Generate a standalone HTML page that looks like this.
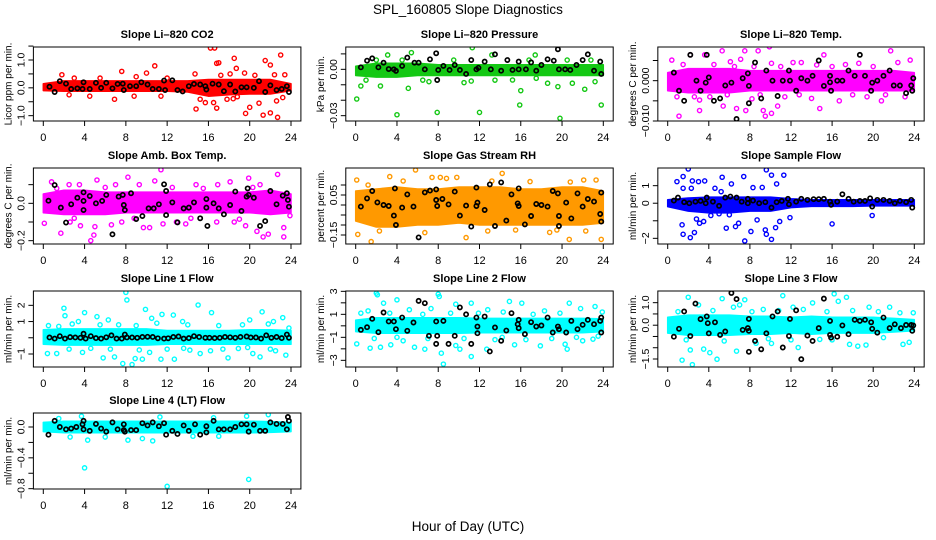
<!DOCTYPE html>
<html><head><meta charset="utf-8">
<style>
html,body{margin:0;padding:0;background:#fff;}
svg{display:block;font-family:"Liberation Sans",Arial,sans-serif;}
</style></head>
<body>
<svg id="chart" width="936" height="540" viewBox="0 0 936 540" xmlns="http://www.w3.org/2000/svg">
<rect x="0" y="0" width="936" height="540" fill="#fff"/>
<text x="468" y="14" text-anchor="middle" font-size="13.5">SPL_160805  Slope Diagnostics</text>
<text x="468" y="531" text-anchor="middle" font-size="13.5">Hour of Day (UTC)</text>
</svg>
<script>
const xTicks = [0,4,8,12,16,20,24];
const bandHours = [0,2,4,6,8,10,12,14,16,18,20,22,24];

// Panel 1: CO2
const co2BandLo = [-0.1,-0.12,-0.12,-0.12,-0.12,-0.12,-0.12,-0.15,-0.3,-0.25,-0.22,-0.22,-0.1];
const co2BandHi = [0.15,0.25,0.25,0.25,0.25,0.25,0.25,0.25,0.3,0.3,0.3,0.3,0.15];
const co2Pts = [[16.2,1.43],[16.6,1.43],[23,1.18],[10.8,0.79],[16.8,0.88],[17,0.9],[18.5,1.06],[18.7,0.7],[21.5,0.98],[22,0.82],[14.8,-0.76],[16.8,-0.73],[19.6,-0.92],[21.3,-0.98],[22.7,-1.06],[22,-0.9],[20.9,-0.55],[22.6,-0.47],[6.9,-0.41],[15.7,-0.53],[17.8,-0.41],[18.4,-0.39],[1.8,0.47],[7.6,0.59],[10,0.53],[14.7,0.5],[19.5,0.53],[18.1,0.5],[22.4,0.47],[23.4,0.47],[15.2,-0.41],[16.5,-0.53],[20,-0.7],[18.8,-0.32],[3,0.35],[5.5,0.35],[9,0.4],[12,0.35],[2.5,-0.25],[4.5,-0.3],[8.8,-0.3],[11.4,-0.3],[17.2,0.45],[20.5,0.45],[23.2,-0.35]];
const co2Black = [[0.6,0.04],[1.1,-0.15],[1.6,0.24],[2.2,0.15],[2.7,-0.04],[3.3,-0.02],[3.8,-0.04],[3.9,0.2],[4.5,-0.04],[5.1,0.18],[5.6,0],[6.1,0.18],[6.7,-0.02],[7.2,0.14],[7.7,0.15],[7.8,-0.08],[8.4,0.06],[9,0.06],[9.5,0.2],[10.1,0.12],[10.6,-0.04],[11.2,-0.04],[11.7,0.26],[11.8,-0.08],[12.5,0.27],[13,-0.08],[13.5,-0.13],[14.1,0.06],[14.6,0.14],[15.2,0.12],[15.7,0.06],[15.8,-0.06],[16.4,0.15],[17,0.12],[17.5,-0.12],[18.1,0.12],[18.6,-0.13],[19.2,0.02],[19.7,0.02],[20.4,0],[20.9,0.24],[21.5,-0.15],[22,0.09],[22.6,-0.08],[23.1,-0.04],[23.6,0.06],[23.8,-0.15]];

// Panel 2: Pressure
const presBandLo = [-0.004,-0.005,-0.005,-0.004,-0.004,-0.004,-0.004,-0.004,-0.004,-0.004,-0.004,-0.004,-0.004];
const presBandHi = [0.002,0.004,0.004,0.004,0.003,0.003,0.003,0.003,0.003,0.003,0.003,0.003,0.003];
const presPts = [[3.1,0.0093],[5.4,0.0108],[11.3,0.014],[13.2,0.0093],[17.4,0.0093],[0.1,-0.0192],[0.5,-0.0108],[2.4,-0.0108],[5.1,-0.0123],[4,-0.0294],[7.9,-0.0279],[12,-0.0279],[15.9,-0.0231],[16,-0.0138],[19.6,-0.0112],[19.8,-0.0317],[22.2,-0.0129],[23.8,-0.0231],[7.1,-0.008],[10.5,-0.0086],[11.2,-0.0076],[15.2,-0.0069],[17.5,-0.0058],[18.6,-0.009],[21,-0.009],[23.2,-0.008],[1,-0.007],[2,0.006],[4.5,0.006],[6.5,-0.007],[9.5,0.006],[13.5,-0.007],[16.8,0.006],[20.5,0.006],[22.8,0.006]];
const presBlack = [[0.5,0.0013],[1.1,0.0056],[1.6,0.0071],[2.2,0.0013],[2.7,0.0043],[3.2,0.0002],[3.7,0],[3.9,-0.001],[4.5,0.0022],[5,0.0076],[5.7,0.0043],[6.1,0.0043],[6.7,0],[7.2,0.0065],[7.8,0.0104],[7.9,-0.0069],[8,-0.0004],[8.5,0.0022],[9.1,-0.0004],[9.6,0.0028],[10.1,-0.0004],[10.7,-0.003],[11.2,0.006],[11.7,0],[11.9,0.001],[12.5,0.005],[13.1,0],[13.5,0.0097],[14.1,-0.0009],[14.7,0.006],[15.2,-0.0004],[15.8,0.005],[15.8,0],[16.5,0],[17,0.0045],[17.5,-0.0009],[18,0.0028],[18.6,0.0065],[19.2,0.0056],[19.6,0.013],[19.7,0],[20.3,0],[20.8,-0.0004],[21.4,0.0028],[22,0.006],[22.5,0.0097],[23.1,-0.0009],[23.7,0.005],[23.8,-0.003]];

// Panel 3: Temp
const tempBandLo = [-0.0025,-0.003,-0.003,-0.003,-0.0025,-0.0025,-0.0025,-0.0025,-0.0025,-0.0025,-0.0025,-0.0025,-0.0025];
const tempBandHi = [0.002,0.003,0.003,0.003,0.0025,0.0025,0.0025,0.0025,0.0025,0.0025,0.0025,0.0025,0.002];
const tempPts = [[0.4,0.0051],[1.1,-0.0088],[2.2,0.0064],[3.1,-0.0074],[3.6,0.0064],[5.3,0.0074],[5.4,-0.0063],[6.7,-0.0069],[7.5,0.0074],[7.6,-0.0074],[8.8,0.0074],[9.3,-0.0074],[9.5,-0.0088],[9.9,0.0084],[10.1,-0.0081],[10.7,-0.0063],[12.2,0.0045],[14,-0.0044],[14.8,-0.0069],[15.2,0.0064],[16.7,-0.005],[18.6,0.0043],[20.8,-0.005],[21.7,0.0074],[23.6,0.0051],[23.1,-0.004],[6.1,0.0047],[4.1,-0.004],[3.1,-0.0048],[14.5,0.0039],[19.4,-0.004],[10.1,0.0043],[7.1,0.0053],[1.5,0.004],[2.6,-0.004],[4.5,0.004],[8.2,-0.0045],[11.4,-0.004],[13,0.0045],[17.3,0.004],[22.4,0.0045],[0.9,-0.004],[5.8,-0.0035],[6.5,0.0035],[8.4,0.0035],[9,-0.0035],[11,0.0035],[12.8,-0.0035],[16,0.0035],[18,-0.0035],[20,0.0035],[21.2,-0.0035]];
const tempBlack = [[0.6,0.002],[1.1,-0.0025],[1.6,-0.005],[2.2,0.0064],[2.8,0],[3.2,-0.0025],[3.7,-0.0005],[3.8,0.0064],[4,0.0008],[4.5,-0.005],[5.1,-0.0044],[5.6,-0.0012],[6.2,-0.0005],[6.7,-0.0095],[7.3,0.0006],[7.8,0.0018],[7.9,-0.0013],[7.9,-0.0056],[8.5,0.0045],[9.1,-0.0044],[9.6,0.0025],[10.2,0],[10.7,-0.0038],[11.2,0],[11.8,0.0025],[11.9,0],[12.5,-0.0025],[13,0.0006],[13.6,0],[14.1,0.0012],[14.7,0.005],[15.2,-0.0013],[15.8,0.0012],[15.8,-0.0004],[15.9,-0.0025],[16.5,0],[17,0],[17.6,0.0025],[18.2,0.0012],[18.7,0.0064],[19.2,0.0012],[19.8,-0.0025],[19.9,-0.0005],[20.4,0],[21,0.0012],[21.6,0.0025],[22,-0.0012],[22.6,-0.0012],[23.2,-0.0031],[23.7,-0.0012],[23.8,-0.0025],[23.9,0.0006]];

// Panel 4: Amb. Box Temp
const ambBandLo = [-0.05,-0.06,-0.06,-0.06,-0.05,-0.05,-0.05,-0.05,-0.05,-0.05,-0.05,-0.06,-0.05];
const ambBandHi = [0.05,0.07,0.07,0.06,0.06,0.06,0.06,0.06,0.06,0.06,0.06,0.07,0.05];
const ambPts = [[11.4,0.18],[22.7,0.155],[5.2,0.125],[8.2,0.14],[0.8,0.115],[1.7,-0.16],[3.6,-0.12],[4.6,-0.2],[4.9,-0.17],[5,-0.125],[9.7,-0.13],[10.3,-0.13],[11.6,-0.11],[13.8,-0.11],[18.1,0.115],[19.9,0.135],[19.6,-0.12],[20.7,-0.15],[21.3,-0.18],[21.8,-0.165],[23.3,-0.13],[23.3,-0.18],[23.9,-0.066],[6.6,-0.115],[0.1,-0.107],[2.5,0.1],[3.5,0.1],[7,0.1],[9.3,0.1],[10.8,0.12],[14.8,0.1],[16.9,0.1],[21,0.1],[2.6,-0.1],[7.6,-0.1],[12.9,-0.1],[16.8,-0.1],[18.5,-0.1],[1.3,0.08],[6,0.085],[12.5,0.085],[15.5,0.08],[20.3,0.085],[3,-0.08],[8.8,-0.08],[14.3,-0.08],[19,-0.085]];
const ambBlack = [[0.5,0.014],[1.1,0.098],[1.7,-0.023],[2.2,-0.103],[2.7,-0.005],[3.3,0.03],[3.9,0.059],[3.9,0.013],[3.9,-0.036],[4.5,0.039],[5.1,0],[5.7,0.013],[6.1,0.045],[6.7,-0.166],[7.3,0.036],[7.7,0.045],[7.8,-0.009],[7.9,-0.036],[8.5,0.054],[9,-0.084],[9.6,-0.068],[10.2,-0.027],[10.7,-0.027],[11.2,-0.005],[11.7,0.102],[11.9,0.066],[11.9,-0.063],[12.5,0.005],[13,-0.102],[13.6,-0.027],[14.1,-0.023],[14.6,0.005],[15.2,-0.08],[15.8,0.023],[15.8,-0.023],[15.9,-0.121],[16.5,0],[17,-0.027],[17.5,-0.059],[18.1,-0.009],[18.6,0.063],[19.2,-0.041],[19.7,0.036],[19.8,0.08],[19.9,0.045],[20.4,0.03],[21,-0.121],[21.5,-0.095],[22,0.066],[22.6,-0.005],[23.2,0.041],[23.6,0.054],[23.7,0.018],[23.8,-0.018]];

// Panel 5: Gas Stream RH
const rhBandLo = [-0.08,-0.11,-0.11,-0.1,-0.1,-0.09,-0.1,-0.1,-0.1,-0.1,-0.1,-0.1,-0.09];
const rhBandHi = [0.07,0.08,0.09,0.08,0.08,0.09,0.09,0.09,0.08,0.08,0.09,0.09,0.07];
const rhPts = [[1.5,-0.183],[0.2,-0.147],[5.8,0.175],[3.3,0.142],[14.2,0.158],[10.7,-0.163],[20.7,-0.172],[22.3,-0.13],[23.8,-0.172],[6.7,-0.138],[9.8,0.138],[7.4,0.138],[8.2,0.138],[8.8,0.133],[18.8,-0.137],[16.9,0.117],[22.1,0.125],[0.1,0.125],[1.2,0.1],[4.6,0.12],[13.2,0.12],[20.8,0.115],[23.3,0.125],[2.3,-0.13],[12.8,-0.13],[15.5,-0.125],[19.5,-0.125]];
const rhBlack = [[0.5,-0.008],[1.1,0.033],[1.6,0.07],[2.1,0.013],[2.7,0],[3.2,-0.005],[3.7,-0.053],[3.8,0.083],[3.9,-0.1],[4.5,-0.013],[5,0.053],[5.6,-0.008],[6.1,-0.162],[6.7,0.063],[7.2,0.072],[7.8,0.078],[7.8,0.025],[7.9,-0.005],[8.4,0.03],[9,0.003],[9.6,0.067],[10.1,-0.053],[10.7,-0.003],[11.2,-0.108],[11.7,0.087],[11.7,-0.005],[11.8,0.012],[12.5,-0.025],[13,0.103],[13.5,-0.105],[14.1,0.113],[14.6,-0.078],[15.1,0.053],[15.7,0.008],[15.8,0.083],[15.8,-0.005],[16.4,-0.097],[17,-0.055],[17.5,0.005],[18,0],[18.6,-0.008],[19.1,0.07],[19.6,0.058],[19.7,-0.055],[19.7,-0.105],[20.4,0.012],[20.9,-0.067],[21.5,0.058],[22,-0.008],[22.5,0.03],[23.1,0.017],[23.7,-0.045],[23.8,-0.083],[23.8,0.062]];

// Panel 6: Sample Flow
const sfBandLo = [-0.2,-0.45,-0.55,-0.55,-0.45,-0.45,-0.25,-0.18,-0.18,-0.18,-0.15,-0.15,-0.15];
const sfBandHi = [0.2,0.3,0.35,0.35,0.35,0.35,0.25,0.2,0.2,0.2,0.2,0.2,0.2];
const sfPts = [[2,1.95],[1.5,1.52],[0.9,1.23],[2.4,1.27],[3,1.23],[3.6,1.27],[5.3,1.48],[7.4,1.52],[9.6,1.9],[10.1,1.6],[11.3,1.6],[2.3,0.85],[1.5,0.85],[1.4,-1.23],[1.5,-1.77],[2.2,-1.96],[2.6,-1.67],[3.1,-1.14],[3.5,-1.04],[5.7,-1.42],[6,-0.66],[6.6,-1.33],[6.9,-1.14],[7.5,-2.15],[8.1,-1.61],[8.7,-0.95],[9.5,-1.52],[9.6,-1.77],[10.1,-2.06],[10.5,-1.39],[10.9,-1.04],[11.9,-0.82],[16,-1.18],[19.9,-0.7],[5.2,0.66],[8.3,0.89],[4.6,0.85],[6.2,1.1],[10.6,1.1],[4.2,-0.7],[5,-0.6],[9.2,0.9],[2.8,-0.9]];
const sfBlack = [[0.6,0.15],[1,0.32],[1.6,0.06],[2.1,0],[2.7,0.09],[3.2,0.13],[3.7,0],[3.8,0.32],[4.4,0.09],[5,-0.15],[5.6,0.32],[6.1,0.38],[6.7,0.32],[7.2,0.09],[7.8,0.25],[7.8,0],[8.3,0.15],[8.9,0],[9.5,0.06],[10.1,-0.25],[10.6,0.06],[11.1,0.13],[11.7,0.25],[11.8,-0.06],[12.5,0.09],[13,0.25],[13.6,0.19],[14.2,0.23],[14.7,0.23],[15.2,0.25],[15.8,0.09],[15.9,-0.09],[16.5,0.09],[17,0.51],[17.6,0.25],[18.1,0.09],[18.7,0.13],[19.2,0.13],[19.7,0.28],[19.9,-0.19],[20.4,0.19],[21,0.19],[21.6,0.13],[22.1,0],[22.6,0.13],[23.2,0.06],[23.7,0.19],[23.8,-0.25]];

// Panel 7: Line 1 Flow
const l1BandLo = [-0.4,-0.45,-0.45,-0.45,-0.45,-0.45,-0.4,-0.4,-0.4,-0.4,-0.4,-0.4,-0.4];
const l1BandHi = [0.5,0.55,0.55,0.55,0.55,0.55,0.45,0.45,0.45,0.45,0.5,0.5,0.45];
const l1Pts = [[8,2.8],[8.1,2.33],[15,2.02],[2,1.82],[9.9,1.75],[2.1,1.36],[4,1.55],[11.5,1.44],[12.6,1.4],[16.3,1.55],[21.2,1.6],[23.2,1.24],[5.2,1.3],[0.4,-0.97],[1.3,-0.97],[5.8,-1.24],[6.9,-1.18],[7.7,-1.59],[8.6,-1.65],[8.9,-1.28],[9.6,-1.32],[11.4,-1.32],[12.7,-1.32],[17.9,-1.24],[20.3,-0.97],[21,-1.18],[23.5,-1.07],[14.2,-0.76],[18.9,-0.66],[15.2,-0.97],[3.4,1],[6.3,1.1],[10.5,1.2],[13.5,1],[20,1.1],[22.3,1],[3.8,-0.9],[10.3,-0.9],[16.2,-0.8],[22.5,-0.8],[0.5,0.75],[1.5,0.7],[2.8,0.85],[5.5,0.8],[7.3,0.8],[9,0.75],[11,0.9],[14,0.8],[17,0.75],[19.3,0.8],[21.8,0.85],[23.8,0.6],[2.5,-0.7],[4.6,-0.65],[6.5,-0.7],[9.3,-0.75],[12,-0.7],[13.6,-0.65],[17.4,-0.7],[19.8,-0.6],[22,-0.7]];
const l1Black = [[0.6,0.02],[1.1,-0.05],[1.6,0.1],[2.1,-0.05],[2.6,0.04],[3.1,0.02],[3.6,0],[3.9,0.25],[4.1,-0.05],[4.6,0.1],[5.1,-0.02],[5.6,-0.05],[6.1,0.03],[6.6,0.15],[7.1,-0.05],[7.6,-0.05],[7.9,0.2],[8.1,0.02],[8.6,0.02],[9.1,0],[9.6,0.05],[10.1,0.06],[10.6,0.05],[11.1,-0.03],[11.7,-0.05],[12.1,-0.03],[12.6,0.05],[13.1,0.08],[13.6,-0.05],[14.1,-0.02],[14.6,0.1],[15.1,0.05],[15.7,0],[16.1,0],[16.6,-0.02],[17.1,0],[17.6,0.05],[18.1,0.03],[18.6,0],[19.1,0.05],[19.7,0.08],[20.1,0.02],[20.6,0.02],[21.1,-0.05],[21.6,0.15],[22.1,0],[22.6,0.05],[23.1,-0.02],[23.6,0.2],[23.8,0]];

// Panel 8: Line 2 Flow
const l2BandLo = [-0.5,-0.65,-0.65,-0.65,-0.65,-0.65,-0.6,-0.6,-0.6,-0.6,-0.6,-0.6,-0.5];
const l2BandHi = [0.5,0.7,0.7,0.7,0.7,0.7,0.65,0.65,0.65,0.65,0.65,0.65,0.6];
const l2Pts = [[2,2.84],[2.1,2.7],[4,2.26],[2.7,1.97],[8,2.75],[8.1,2.55],[9.7,1.88],[11.2,1.97],[14.9,2.12],[16.1,1.97],[20.7,1.97],[23.2,1.68],[0.1,-1.57],[1.4,-1.94],[2.4,-1.86],[3.4,-1.65],[5.7,-1.86],[6.7,-2.03],[8.3,-2.38],[8.5,-3.33],[9.7,-1.71],[10.1,-2.03],[11.2,-2.67],[12.7,-2.03],[15.4,-1.65],[17.9,-1.74],[20.3,-1.6],[20.5,-2.03],[23,-1.16],[1.2,1.3],[5.2,1.4],[7.3,1.5],[12.8,1.4],[18.3,1.3],[21.8,1.5],[4.6,-1.3],[13.5,-1.2],[16.5,-1.2],[22,-1.3],[0.5,1.1],[3.3,1.1],[6.5,1],[9.2,1.1],[11.9,1.1],[14.3,1.2],[17.2,1],[19.8,1.1],[23.9,1.2],[1.8,-1.1],[4,-1],[7,-1.1],[10.5,-1.1],[14.2,-1],[19,-1.1],[21.4,-1],[23.5,-0.9]];
const l2Black = [[0.5,-0.35],[1.1,-0.12],[1.6,0.61],[2.2,-0.55],[2.7,1.16],[3.2,0.38],[3.7,0.38],[3.9,-0.29],[4.5,0.72],[5,-0.43],[5.6,0.29],[6.1,2.17],[6.7,1.97],[7.1,-0.87],[7.8,0.38],[7.8,-1.57],[7.9,-0.87],[8.5,0.43],[9,-1.57],[9.6,-0.87],[10.1,1.6],[10.7,1],[11.2,-1.57],[11.7,0.72],[11.8,-0.06],[11.8,-0.64],[12.5,0.81],[13,-2.23],[13.5,-0.14],[14.1,-1.3],[14.6,-0.41],[15.1,1.1],[15.7,0.14],[15.8,0.52],[15.8,-0.2],[16.4,-0.72],[17,0.32],[17.5,-0.06],[18,0.03],[18.6,0.72],[19.1,-0.58],[19.6,-0.06],[19.7,-0.29],[20.4,-0.58],[20.9,0.43],[21.5,-0.29],[22,0.09],[22.5,0.52],[23.1,0.14],[23.7,0.43],[23.8,-0.58],[23.8,0.72]];

// Panel 9: Line 3 Flow
const l3BandLo = [-0.35,-0.45,-0.45,-0.45,-0.4,-0.4,-0.35,-0.4,-0.35,-0.35,-0.35,-0.3,-0.25];
const l3BandHi = [0.35,0.45,0.45,0.45,0.4,0.4,0.35,0.4,0.35,0.35,0.35,0.3,0.25];
const l3Pts = [[2,1.24],[1.4,-1.55],[2.4,-1.75],[5.3,1.18],[4.8,-1.51],[6.7,-1.15],[7.5,1.13],[11.2,1.31],[16.2,1.39],[16.6,1.06],[17.4,1.24],[14.1,0.99],[22.9,-0.85],[23.5,-0.76],[17.7,-0.85],[18.5,-0.93],[19.3,-0.88],[2.2,-1.1],[3.5,-1.06],[4.1,-1.22],[12.7,-0.99],[10.1,-0.81],[14.8,-0.63],[3,0.9],[6.4,0.8],[9.3,0.7],[12.2,0.8],[19.6,0.8],[21.6,0.8],[8.6,-0.8],[7,0.9],[1,0.6],[4.4,0.65],[8.2,0.6],[10.8,0.65],[13.2,0.7],[15.5,0.6],[18,0.65],[20.5,0.6],[22.6,0.55],[23.9,0.55],[1.8,-0.65],[5.5,-0.7],[9.8,-0.6],[12,-0.65],[16,-0.65],[21,-0.55]];
const l3Black = [[0.6,-0.51],[1.1,-0.16],[1.6,0.61],[2.2,-0.48],[2.7,0.96],[3.2,0.27],[3.8,0.39],[3.9,0.09],[4,-0.36],[4.6,0.13],[5.1,-0.43],[5.6,-0.28],[6.2,1.43],[6.7,1.16],[7.3,-0.21],[7.8,-0.13],[7.9,0.28],[7.9,-0.25],[7.9,-1.18],[8.5,-0.7],[9.1,-1.07],[9.6,-0.36],[10.2,0.39],[10.7,0.61],[11.2,-0.99],[11.8,-0.48],[11.9,0.28],[12.5,0.66],[13,-1.51],[13.6,-0.46],[14.1,-0.7],[14.7,-0.13],[15.2,1.18],[15.8,0.19],[15.8,-0.43],[15.9,-0.55],[16.5,-0.51],[17,-0.01],[17.6,-0.4],[18.2,0.24],[18.7,0.19],[19.2,0.24],[19.8,0.13],[19.9,-0.16],[20.4,-0.33],[21,0.34],[21.6,-0.13],[22.1,0.04],[22.7,-0.13],[23.2,0.01],[23.7,0.01],[23.8,-0.25],[23.9,-0.01]];

// Panel 10: Line 4 (LT) Flow
const l4BandLo = [-0.06,-0.075,-0.075,-0.075,-0.075,-0.075,-0.075,-0.075,-0.075,-0.075,-0.075,-0.07,-0.06];
const l4BandHi = [0.06,0.075,0.075,0.075,0.075,0.075,0.075,0.075,0.075,0.075,0.075,0.07,0.06];
const l4Pts = [[4,-0.53],[12,-0.77],[19.9,-0.68],[4.3,-0.17],[8.2,-0.17],[9.6,-0.15],[10.6,-0.18],[19.7,0.14],[21.8,0.16],[3.7,0.14],[2.6,-0.13],[6,-0.13],[1.5,0.11],[11.3,0.13],[16.5,0.12],[14.5,-0.12],[17,-0.12]];
const l4Black = [[0.5,-0.1],[1.1,0.08],[1.6,0],[2.2,-0.03],[2.7,-0.02],[3.2,0],[3.8,0.035],[3.9,-0.03],[3.9,0.08],[4.5,-0.05],[5.1,0.04],[5.6,-0.02],[6.1,-0.06],[6.7,0.06],[7.2,-0.03],[7.8,0.035],[7.8,-0.04],[7.9,-0.06],[8.5,-0.04],[9,-0.04],[9.6,0.05],[10.1,0.02],[10.6,0.06],[11.2,0.01],[11.7,0.05],[11.9,-0.1],[12.5,-0.05],[13,-0.09],[13.6,0.02],[14.1,-0.05],[14.7,0.035],[15.2,-0.1],[15.8,0.01],[15.8,-0.07],[16.5,0.08],[17,-0.03],[17.5,-0.03],[18.1,-0.03],[18.6,0],[19.2,0.035],[19.7,0.035],[19.9,-0.06],[20.4,0.03],[21,-0.05],[21.5,-0.05],[22,0.06],[22.6,0.04],[23.2,0.04],[23.6,-0.03],[23.7,0.13],[23.8,0.08]];

const cols = [{x0:43.3,x24:291},{x0:355.7,x24:603.3},{x0:667.7,x24:914.3}];
const rows = [{top:47,bot:121},{top:168,bot:244},{top:291,bot:367},{top:413,bot:489}];

const panels = [
 {name:'co2',title:'Slope Li\u2013820 CO2',ylab:'Licor ppm per min.',col:0,row:0,color:'#ff0000',ref:[1.0,60,-1.0,115.67],ticks:[-1,-0.5,0,0.5,1,1.5],labels:[[1,'1.0'],[0,'0.0'],[-1,'\u22121.0']],lo:co2BandLo,hi:co2BandHi,pts:co2Pts,blk:co2Black},
 {name:'pressure',title:'Slope Li\u2013820 Pressure',ylab:'kPa per min.',col:1,row:0,color:'#14c814',ref:[0,69.33,-0.03,115.67],ticks:[-0.03,-0.02,-0.01,0,0.01],labels:[[0,'0.00'],[-0.03,'\u22120.03']],lo:presBandLo,hi:presBandHi,pts:presPts,blk:presBlack},
 {name:'temp',title:'Slope Li\u2013820 Temp.',ylab:'degrees C per min.',col:2,row:0,color:'#ff00ff',ref:[0,80.67,-0.01,121],ticks:[-0.01,-0.005,0,0.005],labels:[[0,'0.000'],[-0.01,'\u22120.010']],lo:tempBandLo,hi:tempBandHi,pts:tempPts,blk:tempBlack},
 {name:'amb-box-temp',title:'Slope Amb. Box Temp.',ylab:'degrees C per min.',col:0,row:1,color:'#ff00ff',ref:[0,203.33,-0.2,240.67],ticks:[-0.2,-0.1,0,0.1],labels:[[0,'0.0'],[-0.2,'\u22120.2']],lo:ambBandLo,hi:ambBandHi,pts:ambPts,blk:ambBlack},
 {name:'gas-stream-rh',title:'Slope Gas Stream RH',ylab:'percent per min.',col:1,row:1,color:'#ff9900',ref:[0.05,195,-0.15,235],ticks:[-0.15,-0.1,-0.05,0,0.05,0.1],labels:[[0.05,'0.05'],[-0.15,'\u22120.15']],lo:rhBandLo,hi:rhBandHi,pts:rhPts,blk:rhBlack},
 {name:'sample-flow',title:'Slope Sample Flow',ylab:'ml/min per min.',col:2,row:1,color:'#0000ff',ref:[1,185.67,-2,238.33],ticks:[-2,-1,0,1],labels:[[1,'1'],[0,'0'],[-2,'\u22122']],lo:sfBandLo,hi:sfBandHi,pts:sfPts,blk:sfBlack},
 {name:'line1-flow',title:'Slope Line 1 Flow',ylab:'ml/min per min.',col:0,row:2,color:'#00ffff',ref:[2,305.33,-1,354],ticks:[-1,0,1,2],labels:[[2,'2'],[1,'1'],[-1,'\u22121']],lo:l1BandLo,hi:l1BandHi,pts:l1Pts,blk:l1Black},
 {name:'line2-flow',title:'Slope Line 2 Flow',ylab:'ml/min per min.',col:1,row:2,color:'#00ffff',ref:[3,291.33,-3,360.33],ticks:[-3,-2,-1,0,1,2,3],labels:[[3,'3'],[1,'1'],[-1,'\u22121'],[-3,'\u22123']],lo:l2BandLo,hi:l2BandHi,pts:l2Pts,blk:l2Black},
 {name:'line3-flow',title:'Slope Line 3 Flow',ylab:'ml/min per min.',col:2,row:2,color:'#00ffff',ref:[1,302.67,-1.5,359],ticks:[-1.5,-1,-0.5,0,0.5,1],labels:[[1,'1.0'],[0,'0.0'],[-1.5,'\u22121.5']],lo:l3BandLo,hi:l3BandHi,pts:l3Pts,blk:l3Black},
 {name:'line4-flow',title:'Slope Line 4 (LT) Flow',ylab:'ml/min per min.',col:0,row:3,color:'#00ffff',ref:[0,427,-0.8,488.67],ticks:[-0.8,-0.6,-0.4,-0.2,0],labels:[[0,'0.0'],[-0.4,'\u22120.4'],[-0.8,'\u22120.8']],lo:l4BandLo,hi:l4BandHi,pts:l4Pts,blk:l4Black}
];

const NS='http://www.w3.org/2000/svg';
const svg=document.getElementById('chart');
function mk(tag,attrs,parent){const e=document.createElementNS(NS,tag);for(const k in attrs)e.setAttribute(k,attrs[k]);(parent||svg).appendChild(e);return e;}

panels.forEach(p=>{
  const c=cols[p.col], r=rows[p.row];
  const sx=(c.x24-c.x0)/24;
  const xs=h=>c.x0+h*sx;
  const ky=(p.ref[3]-p.ref[1])/(p.ref[2]-p.ref[0]);
  const ys=v=>p.ref[1]+(v-p.ref[0])*ky;
  const L=c.x0-0.96*sx, R=c.x24+0.96*sx;
  const g=mk('g',{});
  
  
  const clipId='clip-'+p.name;
  const cp=mk('clipPath',{id:clipId},g);
  mk('rect',{x:L,y:r.top,width:R-L,height:r.bot-r.top},cp);
  const plot=mk('g',{'clip-path':'url(#'+clipId+')'},g);
  let d='';
  bandHours.forEach((h,i)=>{d+=(i?'L':'M')+xs(h).toFixed(1)+','+ys(p.hi[i]).toFixed(1);});
  for(let i=bandHours.length-1;i>=0;i--){d+='L'+xs(bandHours[i]).toFixed(1)+','+ys(p.lo[i]).toFixed(1);}
  d+='Z';
  const band=mk('path',{d:d,fill:p.color,stroke:p.color,'stroke-width':1.5,'stroke-linejoin':'round'},plot);
  
  
  p.pts.forEach(pt=>{
    const e=mk('circle',{cx:xs(pt[0]),cy:ys(pt[1]),r:2.1,fill:'none',stroke:p.color,'stroke-width':1.4},plot);
    
    
  });
  p.blk.forEach(pt=>{
    const e=mk('circle',{cx:xs(pt[0]),cy:ys(pt[1]),r:2.1,fill:'none',stroke:'#000','stroke-width':1.7},plot);
    
    
  });
  const fr=mk('rect',{x:L,y:r.top,width:R-L,height:r.bot-r.top,fill:'none',stroke:'#000','stroke-width':1},g);
  
  
  const t=mk('text',{x:(L+R)/2,y:r.top-9,'text-anchor':'middle','font-size':11,'font-weight':'bold'},g);
  t.textContent=p.title;
  
  
  xTicks.forEach(h=>{
    mk('line',{x1:xs(h),x2:xs(h),y1:r.bot,y2:r.bot+5,stroke:'#000','stroke-width':1},g);
    const tl=mk('text',{x:xs(h),y:r.bot+20,'text-anchor':'middle','font-size':11},g);
    tl.textContent=h;
    
    
  });
  p.ticks.forEach(v=>{
    const yy=ys(v);
    if(yy<r.top-1||yy>r.bot+1)return;
    mk('line',{x1:L-5,x2:L,y1:yy,y2:yy,stroke:'#000','stroke-width':1},g);
  });
  p.labels.forEach(lb=>{
    const yy=ys(lb[0]);
    const tl=mk('text',{x:0,y:0,'text-anchor':'middle','font-size':10.5,transform:'translate('+(L-9)+','+yy+') rotate(-90)'},g);
    tl.textContent=lb[1];
    
    
  });
  const yl=mk('text',{x:0,y:0,'text-anchor':'middle','font-size':10,transform:'translate('+(L-22)+','+((r.top+r.bot)/2)+') rotate(-90)'},g);
  yl.textContent=p.ylab;
  
  
});
</script>
</body></html>
